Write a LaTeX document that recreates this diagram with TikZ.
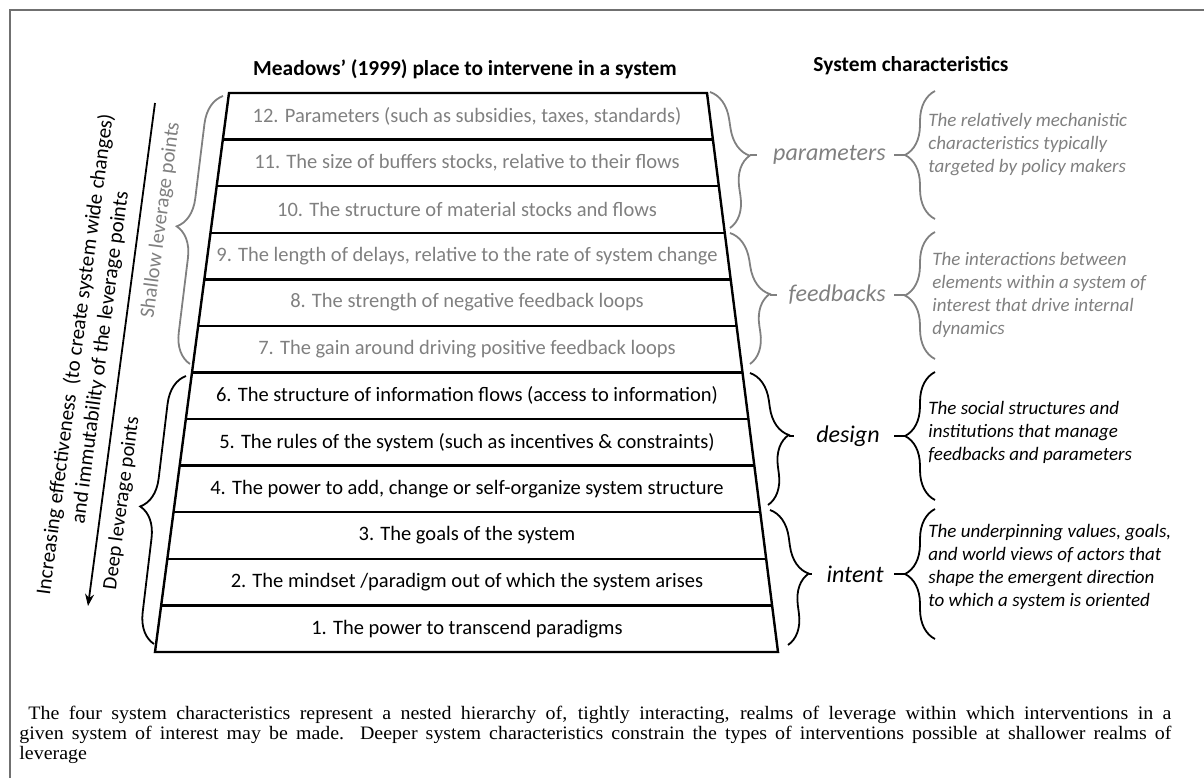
\documentclass[tikz,border=0pt]{standalone}
\usepackage{fontspec}
\setmainfont{Carlito}
\newfontfamily\capfont[FakeStretch=1.05]{Liberation Serif}
\usetikzlibrary{arrows.meta,decorations.pathreplacing}

\definecolor{shallowgray}{HTML}{808080}
\definecolor{framegray}{HTML}{707070}

\tikzset{
  stair line/.style={line width=1.2pt},
  row text/.style={font=\fontsize{10.25}{12}\selectfont},
  shallow/.style={text=shallowgray},
  deep/.style={text=black},
  lever brace/.style={decorate,decoration={brace,amplitude=15pt},line width=0.9pt},
  realm/.style={font=\fontsize{12}{14}\selectfont\itshape,anchor=east,inner sep=0pt},
  realm text/.style={font=\fontsize{9.5}{11.5}\selectfont\itshape,anchor=base west,align=left,inner sep=0pt},
  side text/.style={rotate=82.5,align=center,inner sep=0pt},
  head/.style={font=\fontsize{10.7}{12}\selectfont\bfseries},
}

\begin{document}
\begin{tikzpicture}[x=0.5pt,y=-0.5pt]
  \useasboundingbox (0,0) rectangle (1204,778);
  \draw[framegray,line width=1pt] (10,778) -- (10,10) -- (1204,10);

  % headings
  \node[head] (meadows) at (465,69) {Meadows’ (1999) place to intervene in a system};
  \node[head] (charac) at (911,66) {System characteristics};

  % the stair of leverage points
  \draw[stair line] (229,93) -- (707,93) -- (778,652) -- (155,652) -- cycle;
  \foreach \i in {1,...,11}{
    \pgfmathsetmacro\yy{93+\i*46.58}
    \pgfmathsetmacro\xl{229-74*\i/12}
    \pgfmathsetmacro\xr{707+71*\i/12}
    \draw[stair line] (\xl,\yy) -- (\xr,\yy);
  }
  \foreach \n/\s/\t in {
      12/shallow/{12. Parameters (such as subsidies, taxes, standards)},
      11/shallow/{11. The size of buffers stocks, relative to their flows},
      10/shallow/{10. The structure of material stocks and flows},
      9/shallow/{9. The length of delays, relative to the rate of system change},
      8/shallow/{8. The strength of negative feedback loops},
      7/shallow/{7. The gain around driving positive feedback loops},
      6/deep/{6. The structure of information flows (access to information)},
      5/deep/{5. The rules of the system (such as incentives \& constraints)},
      4/deep/{4. The power to add, change or self-organize system structure},
      3/deep/{3. The goals of the system},
      2/deep/{2. The mindset /paradigm out of which the system arises},
      1/deep/{1. The power to transcend paradigms}}{
    \pgfmathsetmacro\yy{93+(12-\n+0.5)*46.58}
    \node[row text,\s] (r\n) at (467,\yy) {\t};
  }

  % left side
  \coordinate (arrow top) at (155,103);
  \coordinate (arrow end) at (88,606);
  \draw[line width=0.9pt,-{Stealth[length=6pt,width=4.5pt]}] (arrow top) -- (arrow end);
  \node[side text,font=\fontsize{10.5}{12.5}\selectfont] (effect) at (88,356)
    {Increasing effectiveness\ \ (to create system wide changes)\\and immutability of the leverage points};
  \draw[lever brace,shallowgray] (190,364) -- (223,96);
  \node[side text,shallowgray,font=\fontsize{10.3}{12}\selectfont] (shallowpts) at (161,220) {Shallow leverage points};
  \draw[lever brace] (154,644) -- (186,376);
  \node[side text,font=\fontsize{10.2}{12}\selectfont] (deeppts) at (122,503) {Deep leverage points};

  % right side: parameters
  \draw[lever brace,shallowgray] (710,92) -- (730,228);
  \coordinate (par in) at (750,155);
  \coordinate (par out) at (905,155);
  \node[realm,shallowgray] (parameters) at (886,155) {parameters};
  \draw[shallowgray,line width=0.9pt,shorten >=8pt] (par in) -- (parameters.west);
  \draw[shallowgray,line width=0.9pt,shorten <=4pt] (parameters.east) -- (par out);
  \draw[lever brace,shallowgray] (935,219) -- (935,91);
  \node[realm text,text=shallowgray] (par text) at (928,172)
    {The relatively mechanistic\\characteristics typically\\targeted by policy makers};

  % feedbacks
  \draw[lever brace,shallowgray] (730,233) -- (750,364);
  \coordinate (fb in) at (770,295);
  \coordinate (fb out) at (905,295);
  \node[realm,shallowgray] (feedbacks) at (886,295) {feedbacks};
  \draw[shallowgray,line width=0.9pt,shorten >=5.5pt] (fb in) -- (feedbacks.west);
  \draw[shallowgray,line width=0.9pt,shorten <=4pt] (feedbacks.east) -- (fb out);
  \draw[lever brace,shallowgray] (935,359) -- (935,232);
  \node[realm text,text=shallowgray] (fb text) at (932,334)
    {The interactions between\\elements within a system of\\interest that drive internal\\dynamics};

  % design
  \draw[lever brace] (750,373) -- (768,505);
  \coordinate (des in) at (789,436);
  \coordinate (des out) at (905,436);
  \node[realm] (design) at (880,436) {design};
  \draw[line width=0.9pt,shorten >=11pt] (des in) -- (design.west);
  \draw[line width=0.9pt,shorten <=7pt] (design.east) -- (des out);
  \draw[lever brace] (935,500) -- (935,372);
  \node[realm text] (des text) at (928,460)
    {The social structures and\\institutions that manage\\feedbacks and parameters};

  % intent
  \draw[lever brace] (770,510) -- (788,645);
  \coordinate (int in) at (809,574);
  \coordinate (int out) at (905,574);
  \node[realm] (intent) at (884,574) {intent};
  \draw[line width=0.9pt,shorten >=7pt] (int in) -- (intent.west);
  \draw[line width=0.9pt,shorten <=5pt] (intent.east) -- (int out);
  \draw[lever brace] (935,639) -- (935,509);
  \node[realm text] (int text) at (928,606)
    {The underpinning values, goals,\\and world views of actors that\\shape the emergent direction\\to which a system is oriented};

  % caption (first baseline)
  \node[anchor=base west,text width=576pt,align=justify,inner sep=0pt,font=\capfont\fontsize{9.5}{10}\selectfont] (caption) at (19,719)
    {\hspace*{4.5pt}The four system characteristics represent a nested hierarchy of, tightly interacting, realms of leverage within which interventions in a\linebreak
     given system of interest may be made. Deeper system characteristics constrain the types of interventions possible at shallower realms of\linebreak
     leverage};
\end{tikzpicture}
\end{document}
